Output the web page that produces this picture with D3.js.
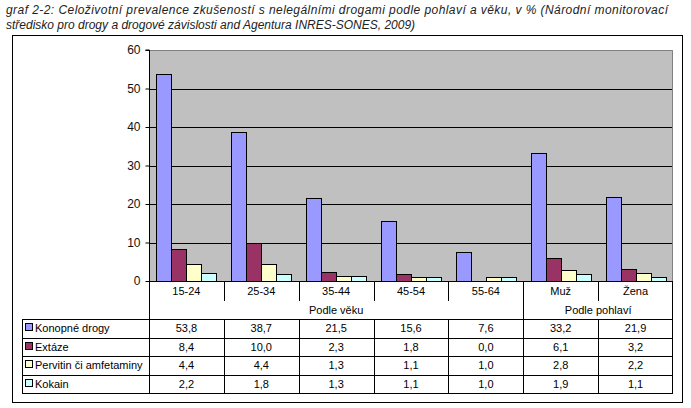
<!DOCTYPE html>
<html><head><meta charset="utf-8">
<script src="https://cdn.jsdelivr.net/npm/d3@7"></script>
<style>
body{margin:0;background:#fff;}
svg{display:block;font-family:"Liberation Sans",Arial,sans-serif;}
</style></head>
<body>
<svg id="c" width="691" height="408"></svg>
<script>
const categories = ["15-24","25-34","35-44","45-54","55-64","Muž","Žena"];
const groups = [{name:"Podle věku", from:0, to:4},{name:"Podle pohlaví", from:5, to:6}];
const seriesNames = ["Konopné drogy","Extáze","Pervitin či amfetaminy","Kokain"];
const seriesColors = ["#9999FF","#993366","#FFFFCC","#CCFFFF"];
const konopne = [53.8,38.7,21.5,15.6,7.6,33.2,21.9];
const extaze = [8.4,10.0,2.3,1.8,0.0,6.1,3.2];
const pervitin = [4.4,4.4,1.3,1.1,1.0,2.8,2.2];
const kokain = [2.2,1.8,1.3,1.1,1.0,1.9,1.1];
const yTicks = [0,10,20,30,40,50,60];
const titleLines = ["graf 2-2: Celoživotní prevalence zkušeností s nelegálními drogami podle pohlaví a věku, v % (Národní monitorovací",
                    "středisko pro drogy a drogové závislosti and Agentura INRES-SONES, 2009)"];

const series = [konopne, extaze, pervitin, kokain];
const svg = d3.select("#c");

// title
const t = svg.append("g").attr("font-style","italic").attr("font-size",12).attr("fill","#222");
t.append("text").attr("x",6).attr("y",14).attr("textLength",662).attr("lengthAdjust","spacing").text(titleLines[0]);
t.append("text").attr("x",6).attr("y",29).text(titleLines[1]);

// outer frame
svg.append("rect").attr("x",12.5).attr("y",35.5).attr("width",670).attr("height",367).attr("fill","none").attr("stroke","#000").attr("stroke-width",1);

const L=149, R=673, T=50, B=281;
const x = d3.scaleBand().domain(categories).range([L,R]).padding(0);
const bw = x.bandwidth();
const x1 = d3.scaleBand().domain(d3.range(series.length)).range([bw*0.1, bw*0.9]).padding(0);
const y = d3.scaleLinear().domain([0,60]).range([B,T]);

// plot background
svg.append("rect").attr("x",L).attr("y",T).attr("width",R-L).attr("height",B-T).attr("fill","#C0C0C0");
// gridlines
svg.append("g").selectAll("line").data(yTicks.filter(v=>v>0 && v<60)).join("line")
  .attr("x1",L).attr("x2",R).attr("y1",d=>Math.round(y(d))+0.5).attr("y2",d=>Math.round(y(d))+0.5)
  .attr("stroke","#000");
// top & right border gray
svg.append("path").attr("d",`M${L},${T+0.5}H${R-0.5}V${B}`).attr("fill","none").attr("stroke","#808080");

// bars
const bars = svg.append("g");
series.forEach((s,si)=>{
  bars.selectAll(null).data(s.map((v,i)=>({v,i})).filter(d=>d.v>0)).join("rect")
    .attr("x",d=>Math.round(x(categories[d.i])+x1(si))+0.5)
    .attr("y",d=>Math.round(y(d.v))+0.5)
    .attr("width",Math.round(x1.bandwidth()))
    .attr("height",d=>Math.round(B-y(d.v)))
    .attr("fill",seriesColors[si]).attr("stroke","#000").attr("stroke-width",1);
});

// y axis
const yAxis = d3.axisLeft(y).tickValues(yTicks).tickSize(4).tickPadding(5).tickFormat(d3.format("d"));
const ya = svg.append("g").attr("transform",`translate(${L+0.5},0)`).call(yAxis);
ya.select(".domain").attr("stroke","#000").attr("d",`M-4,${T}H0V${B}`);
ya.selectAll(".tick line").attr("stroke","#000");
ya.selectAll(".tick text").attr("font-size",12).attr("fill","#111").attr("font-family","Liberation Sans, Arial, sans-serif");

// x axis baseline
svg.append("line").attr("x1",L).attr("x2",R).attr("y1",B+0.5).attr("y2",B+0.5).attr("stroke","#000");

// category row
const catRowB = 301, grpRowB = 319;
const tab = svg.append("g").attr("font-size",11).attr("fill","#000");
tab.selectAll(".cat").data(categories).join("text")
  .attr("x",d=>x(d)+bw/2).attr("y",295).attr("text-anchor","middle").text(d=>d);
// category separators
const lines = svg.append("g").attr("stroke","#000").attr("stroke-width",1);
categories.forEach((c,i)=>{
  const xx = Math.round(x(c))+0.5;
  const isGroupStart = groups.some(g=>g.from===i);
  lines.append("line").attr("x1",xx).attr("x2",xx).attr("y1",B).attr("y2",isGroupStart?grpRowB:catRowB);
});
lines.append("line").attr("x1",R-0.5).attr("x2",R-0.5).attr("y1",B).attr("y2",grpRowB);
// group labels
groups.forEach(g=>{
  const gx0 = x(categories[g.from]), gx1 = x(categories[g.to])+bw;
  tab.append("text").attr("x",(gx0+gx1)/2).attr("y",314).attr("text-anchor","middle").text(g.name);
});

// data table
const rowY = d3.scaleLinear().domain([0,4]).range([319,393]);
const tL = 22;
for(let r=0;r<=4;r++){
  const yy = Math.round(rowY(r))+0.5;
  lines.append("line").attr("x1",tL).attr("x2",R).attr("y1",yy).attr("y2",yy);
}
[tL+0.5, L+0.5, ...categories.slice(1).map(c=>Math.round(x(c))+0.5), R-0.5].forEach(xx=>{
  lines.append("line").attr("x1",xx).attr("x2",xx).attr("y1",rowY(0)).attr("y2",rowY(4)+0.5);
});
const fmt = v=>d3.format(".1f")(v).replace(".",",");
series.forEach((s,si)=>{
  const cy = (rowY(si)+rowY(si+1))/2;
  svg.append("rect").attr("x",25.5).attr("y",Math.round(cy)-4.5).attr("width",7).attr("height",7)
    .attr("fill",seriesColors[si]).attr("stroke","#000");
  tab.append("text").attr("x",35).attr("y",cy+4).text(seriesNames[si]);
  s.forEach((v,i)=>{
    tab.append("text").attr("x",x(categories[i])+bw/2).attr("y",cy+4).attr("text-anchor","middle").text(fmt(v));
  });
});
</script>
</body></html>
